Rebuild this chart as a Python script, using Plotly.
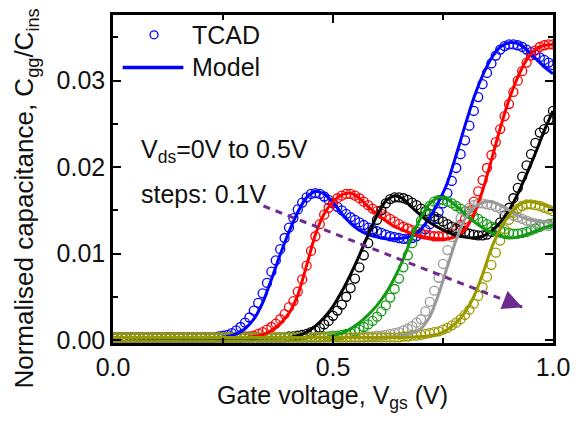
import plotly.graph_objects as go

# ---------------- data (capacitance values in units of 1e-3) ----------------
vds_labels = ["0.0V", "0.1V", "0.2V", "0.3V", "0.4V", "0.5V"]
colors = ["#0000FF", "#FF0000", "#000000", "#129A12", "#9A9A9A", "#9A9A00"]

# TCAD sampled every 0.01 V from 0.00 to 1.00
tcad_vgs = [i / 100 for i in range(101)]

tcad_blue = [0.3]*24 + [
    0.4, 0.5, 0.6, 0.8, 1.1, 1.5, 2.0, 2.6, 3.4, 4.3,
    5.4, 6.6, 7.9, 9.2, 10.5, 11.8, 13.0, 14.1, 15.1, 15.9,
    16.5, 16.9, 17.0, 16.9, 16.6, 16.2, 15.8, 15.4, 15.0, 14.6,
    14.2, 13.9, 13.6, 13.3, 13.0, 12.8, 12.6, 12.4, 12.2, 12.0,
    11.9, 11.8, 11.7, 11.7, 11.8, 12.0, 12.3, 12.8, 13.4, 14.0,
    14.8, 15.8, 17.0, 18.4, 19.9, 21.5, 23.1, 24.8, 26.5, 28.1,
    29.6, 30.9, 32.0, 32.9, 33.6, 34.0, 34.2, 34.2, 34.1, 33.9,
    33.6, 33.3, 33.0, 32.7, 32.4, 32.1, 31.8]
tcad_red = [0.3]*30 + [
    0.4, 0.4, 0.5, 0.7, 0.9, 1.2, 1.5, 1.9, 2.4, 3.0,
    3.8, 4.5, 5.6, 7.0, 8.6, 10.3, 12.0, 13.4, 14.5, 15.3,
    15.9, 16.4, 16.7, 16.9, 16.9, 16.7, 16.4, 16.0, 15.6, 15.2,
    14.9, 14.6, 14.3, 14.0, 13.7, 13.4, 13.1, 12.9, 12.7, 12.5,
    12.3, 12.2, 12.1, 12.0, 12.0, 12.0, 12.1, 12.3, 12.7, 13.3,
    14.0, 14.9, 16.0, 17.2, 18.5, 19.9, 21.4, 22.9, 24.4, 25.9,
    27.3, 28.7, 30.0, 31.1, 32.1, 32.9, 33.5, 33.9, 34.1, 34.2,
    34.2]
tcad_black = [0.3]*40 + [
    0.4, 0.4, 0.5, 0.6, 0.7, 0.9, 1.1, 1.4, 1.8, 2.2,
    2.8, 3.4, 4.1, 5.0, 6.0, 7.1, 8.4, 9.8, 11.2, 12.6,
    13.9, 15.0, 15.8, 16.3, 16.5, 16.5, 16.4, 16.2, 15.9, 15.6,
    15.2, 14.9, 14.6, 14.3, 14.0, 13.7, 13.4, 13.1, 12.9, 12.7,
    12.5, 12.3, 12.2, 12.1, 12.1, 12.2, 12.5, 13.0, 13.6, 14.4,
    15.3, 16.4, 17.6, 18.9, 20.2, 21.5, 22.8, 24.0, 24.4, 25.5,
    26.5]
tcad_green = [0.3]*48 + [
    0.4, 0.4, 0.5, 0.5, 0.6, 0.7, 0.8, 1.0, 1.2, 1.5,
    1.8, 2.2, 2.7, 3.3, 4.0, 4.9, 5.9, 7.1, 8.4, 9.8,
    11.2, 12.6, 13.8, 14.8, 15.5, 16.0, 16.2, 16.2, 16.0, 15.8,
    15.5, 15.2, 14.9, 14.6, 14.3, 14.0, 13.7, 13.4, 13.1, 12.9,
    12.7, 12.5, 12.4, 12.3, 12.3, 12.4, 12.5, 12.7, 12.9, 13.1,
    13.3, 13.4, 13.5]
tcad_gray = [0.3]*58 + [
    0.4, 0.4, 0.5, 0.5, 0.6, 0.7, 0.8, 0.9, 1.1, 1.3,
    1.6, 2.0, 2.4, 3.3, 4.4, 5.7, 7.2, 8.8, 10.4, 11.9,
    13.1, 14.1, 14.8, 15.3, 15.6, 15.8, 15.8, 15.7, 15.6, 15.4,
    15.2, 14.9, 14.7, 14.4, 14.2, 14.0, 13.8, 13.6, 13.5, 13.4,
    13.3, 13.2]
tcad_olive = [0.3]*66 + [
    0.4, 0.4, 0.5, 0.5, 0.6, 0.7, 0.8, 0.9, 1.0, 1.2,
    1.4, 1.7, 2.0, 2.4, 2.9, 3.5, 4.2, 5.1, 6.1, 7.3,
    8.7, 10.1, 11.5, 12.8, 13.9, 14.7, 15.2, 15.5, 15.7, 15.7,
    15.6, 15.5, 15.3, 15.1, 14.9]

# Model curves as (Vgs, C) pairs
model_blue = [(0.00, 0.3), (0.24, 0.3), (0.26, 0.4), (0.28, 0.7), (0.30, 1.3), (0.32, 2.4),
              (0.34, 4.3), (0.36, 7.0), (0.38, 9.9), (0.40, 12.5), (0.42, 14.8), (0.44, 16.5),
              (0.46, 17.2), (0.48, 16.9), (0.50, 15.9), (0.52, 14.6), (0.54, 13.5), (0.56, 12.7),
              (0.58, 12.2), (0.60, 11.9), (0.62, 11.7), (0.64, 11.7), (0.66, 11.8), (0.68, 12.0),
              (0.70, 12.8), (0.72, 14.2), (0.74, 16.0), (0.76, 18.2), (0.78, 21.4), (0.80, 24.8),
              (0.82, 28.0), (0.84, 30.6), (0.86, 32.6), (0.88, 33.9), (0.90, 34.4), (0.92, 34.3),
              (0.94, 33.6), (0.96, 32.6), (0.98, 31.6), (1.00, 30.8)]
model_red = [(0.00, 0.3), (0.30, 0.3), (0.32, 0.4), (0.34, 0.6), (0.36, 1.1), (0.38, 1.9),
             (0.40, 3.1), (0.42, 5.2), (0.44, 8.6), (0.46, 12.2), (0.48, 14.6), (0.50, 16.0),
             (0.52, 16.8), (0.54, 17.0), (0.56, 16.4), (0.58, 15.4), (0.60, 14.6), (0.62, 13.8),
             (0.64, 13.1), (0.66, 12.7), (0.68, 12.3), (0.70, 12.0), (0.72, 11.8), (0.74, 11.7),
             (0.76, 11.7), (0.78, 12.0), (0.80, 12.8), (0.82, 14.5), (0.84, 17.3), (0.86, 20.8),
             (0.88, 24.5), (0.90, 27.8), (0.92, 30.4), (0.94, 32.4), (0.96, 33.6), (0.98, 34.1),
             (1.00, 34.2)]
model_black = [(0.00, 0.3), (0.40, 0.3), (0.42, 0.5), (0.44, 0.9), (0.46, 1.6), (0.48, 2.6),
               (0.50, 3.9), (0.52, 5.6), (0.54, 7.6), (0.56, 9.8), (0.58, 12.2), (0.60, 14.4),
               (0.62, 16.1), (0.64, 16.7), (0.66, 16.3), (0.68, 15.3), (0.70, 14.4), (0.72, 13.6),
               (0.74, 13.0), (0.76, 12.5), (0.78, 12.1), (0.80, 11.9), (0.82, 11.8), (0.84, 12.0),
               (0.86, 12.6), (0.88, 13.6), (0.90, 15.0), (0.92, 16.9), (0.94, 19.2), (0.96, 21.6),
               (0.98, 24.2), (1.00, 26.5)]
model_green = [(0.00, 0.3), (0.48, 0.3), (0.50, 0.5), (0.52, 0.8), (0.54, 1.3), (0.56, 2.0),
               (0.58, 2.9), (0.60, 4.0), (0.62, 5.4), (0.64, 7.2), (0.66, 9.4), (0.68, 12.0),
               (0.70, 14.2), (0.72, 15.8), (0.74, 16.5), (0.76, 16.3), (0.78, 15.5), (0.80, 14.6),
               (0.82, 13.7), (0.84, 13.0), (0.86, 12.4), (0.88, 12.0), (0.90, 11.8), (0.92, 11.9),
               (0.94, 12.2), (0.96, 12.6), (0.98, 13.0), (1.00, 13.3)]
model_gray = [(0.00, 0.3), (0.60, 0.3), (0.64, 0.4), (0.66, 0.5), (0.68, 0.8), (0.70, 1.3),
              (0.72, 2.7), (0.74, 5.3), (0.76, 8.5), (0.78, 11.6), (0.80, 14.0), (0.82, 15.3),
              (0.84, 15.9), (0.86, 16.0), (0.88, 15.6), (0.90, 15.0), (0.92, 14.4), (0.94, 14.0),
              (0.96, 13.8), (0.98, 13.7), (1.00, 13.6)]
model_olive = [(0.00, 0.3), (0.66, 0.3), (0.70, 0.4), (0.72, 0.5), (0.74, 0.7), (0.76, 1.2),
               (0.78, 2.0), (0.80, 3.2), (0.82, 5.0), (0.84, 7.6), (0.86, 10.6), (0.88, 12.9),
               (0.90, 14.4), (0.92, 15.5), (0.94, 16.0), (0.96, 15.9), (0.98, 15.6), (1.00, 15.2)]

tcad_series = [tcad_blue, tcad_red, tcad_black, tcad_green, tcad_gray, tcad_olive]
model_series = [model_blue, model_red, model_black, model_green, model_gray, model_olive]

# Trend arrow (Vgs, C in 1e-3)
arrow_start = (0.342, 15.5)
arrow_end = (0.93, 3.8)

FONT = "Liberation Sans, Arial, sans-serif"
PURPLE = "#6E2A8E"
TXT = "#111111"

fig = go.Figure()

for t, c, lab in zip(tcad_series, colors, vds_labels):
    fig.add_trace(go.Scatter(
        x=tcad_vgs, y=[v / 1000 for v in t], mode="markers",
        marker=dict(symbol="circle-open", size=9, color=c, line=dict(width=1.3, color=c)),
        name="TCAD " + lab, showlegend=False, hoverinfo="skip"))

for m, c, lab in zip(model_series, colors, vds_labels):
    fig.add_trace(go.Scatter(
        x=[p[0] for p in m], y=[p[1] / 1000 for p in m], mode="lines",
        line=dict(color=c, width=3, shape="spline", smoothing=0.6),
        name="Model " + lab, showlegend=False, hoverinfo="skip"))

# dashed trend line
fig.add_trace(go.Scatter(
    x=[arrow_start[0], arrow_end[0]], y=[arrow_start[1] / 1000, arrow_end[1] / 1000],
    mode="lines", line=dict(color=PURPLE, width=3, dash="7px,6px"),
    showlegend=False, hoverinfo="skip"))

dx = arrow_end[0] - arrow_start[0]
dy = arrow_end[1] - arrow_start[1]
fig.add_annotation(
    x=arrow_end[0], y=arrow_end[1] / 1000,
    ax=arrow_end[0] - 0.06 * dx, ay=(arrow_end[1] - 0.06 * dy) / 1000,
    xref="x", yref="y", axref="x", ayref="y",
    showarrow=True, arrowhead=2, arrowsize=1.3, arrowwidth=3, arrowcolor=PURPLE, text="")

# custom legend
fig.add_shape(type="line", xref="paper", yref="paper", x0=0.022, x1=0.16, y0=0.84, y1=0.84,
              line=dict(color="#0000FF", width=3.5))
fig.add_trace(go.Scatter(x=[0.0933], y=[0.9396], xaxis="x2", yaxis="y2", mode="markers",
                         marker=dict(symbol="circle-open", size=8, color="#0000FF",
                                     line=dict(width=1.3, color="#0000FF")),
                         showlegend=False, hoverinfo="skip"))
fig.add_annotation(x=0.176, y=0.9396, xref="paper", yref="paper", text="TCAD", showarrow=False,
                   xanchor="left", yanchor="middle", font=dict(size=25, color=TXT, family=FONT))
fig.add_annotation(x=0.174, y=0.84, xref="paper", yref="paper", text="Model", showarrow=False,
                   xanchor="left", yanchor="middle", font=dict(size=25, color=TXT, family=FONT))

# text annotations
fig.add_annotation(x=0.058, y=0.585, xref="paper", yref="paper",
                   text="V<sub>ds</sub>=0V to 0.5V", showarrow=False,
                   xanchor="left", yanchor="middle", font=dict(size=25, color=TXT, family=FONT))
fig.add_annotation(x=0.058, y=0.455, xref="paper", yref="paper",
                   text="steps: 0.1V", showarrow=False,
                   xanchor="left", yanchor="middle", font=dict(size=25, color=TXT, family=FONT))

# axis titles
fig.add_annotation(x=0.498, y=-0.165, xref="paper", yref="paper",
                   text="Gate voltage, V<sub>gs</sub> (V)", showarrow=False,
                   xanchor="center", yanchor="middle", font=dict(size=25, color=TXT, family=FONT))
fig.add_annotation(x=-0.198, y=0.44, xref="paper", yref="paper", textangle=-90,
                   text="Normalised capacitance, C<sub>gg</sub>/C<sub>ins</sub>", showarrow=False,
                   xanchor="center", yanchor="middle", font=dict(size=26, color=TXT, family=FONT))

axis_common = dict(showline=True, linecolor="black", linewidth=2.5, mirror="ticks",
                   ticks="inside", ticklen=8, tickwidth=2, tickcolor="black",
                   showgrid=False, zeroline=False,
                   tickfont=dict(size=25, color=TXT, family=FONT))

fig.update_layout(
    width=582, height=427,
    margin=dict(l=113, r=19, t=12, b=84),
    paper_bgcolor="white", plot_bgcolor="white",
    xaxis=dict(range=[0, 1.0], tickvals=[0, 0.5, 1.0], ticktext=["0.0", "0.5", "1.0"],
               minor=dict(tickvals=[0.25, 0.75], ticks="inside", ticklen=5, tickwidth=2,
                          tickcolor="black"),
               ticklabelstandoff=0,
               **axis_common),
    yaxis=dict(range=[-0.00035, 0.0376], tickvals=[0, 0.01, 0.02, 0.03],
               ticktext=["0.00", "0.01", "0.02", "0.03"],
               minor=dict(tickvals=[0.005, 0.015, 0.025, 0.035], ticks="inside", ticklen=5,
                          tickwidth=2, tickcolor="black"),
               **axis_common),
    xaxis2=dict(range=[0, 1], domain=[0, 1], visible=False, overlaying="x"),
    yaxis2=dict(range=[0, 1], domain=[0, 1], visible=False, overlaying="y"),
    showlegend=False,
)

fig.write_html("out.html")
